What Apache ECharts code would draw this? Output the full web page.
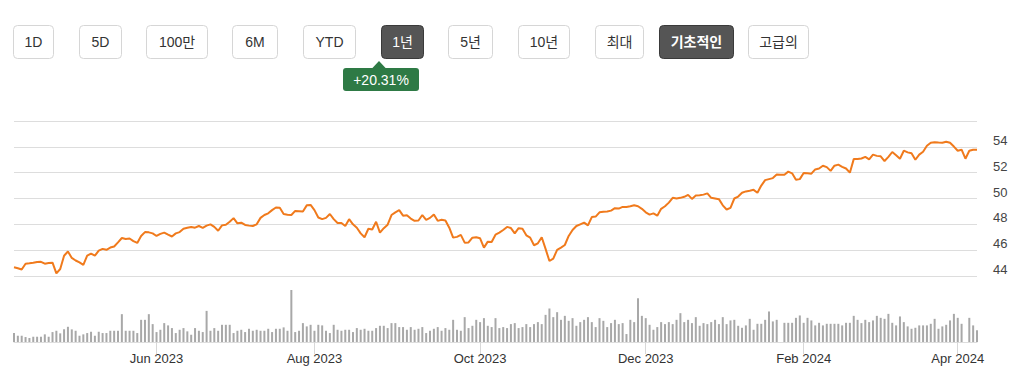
<!DOCTYPE html>
<html>
<head>
<meta charset="utf-8">
<style>
  html, body { margin: 0; padding: 0; background: #fff; }
  #chart { width: 1020px; height: 379px; }
</style>
<script src="https://cdn.jsdelivr.net/npm/echarts@6/dist/echarts.min.js"></script>
</head>
<body>
<div id="chart"></div>
<script>
// ---------- DATA ----------
const buttonLabels = ['1D', '5D', '100만', '6M', 'YTD', '1년', '5년', '10년', '최대', '기초적인', '고급의'];
const activeButtons = ['1년', '기초적인'];
const changeLabel = '+20.31%';

// trading calendar (categories)
const startDate = '2023-04-10';
const endDate = '2024-04-08';
const marketHolidays = ['2023-05-29', '2023-06-19', '2023-07-04', '2023-09-04', '2023-11-23',
  '2023-12-25', '2024-01-01', '2024-01-15', '2024-02-19', '2024-03-29'];
const tickLabels = ['Jun 2023', 'Aug 2023', 'Oct 2023', 'Dec 2023', 'Feb 2024', 'Apr 2024'];
const priceTicks = [44, 46, 48, 50, 52, 54];

// closing price per trading day
const prices = [
  44.68, 44.6, 44.5, 44.95, 44.98, 45.02, 45.08, 45.1, 44.95, 45.0,
  45.03, 44.2, 44.54, 45.57, 45.9, 45.4, 45.2, 45.05, 44.86, 45.57,
  45.73, 45.57, 45.97, 46.1, 46.03, 46.2, 46.28, 46.6, 46.94, 46.86,
  46.9, 46.7, 46.56, 47.1, 47.4, 47.38, 47.3, 47.1, 47.26, 47.36,
  47.2, 47.06, 47.3, 47.4, 47.66, 47.74, 47.8, 47.74, 47.87, 47.72,
  47.9, 48.0, 47.8, 47.5, 47.92, 47.97, 48.2, 48.48, 48.08, 48.13,
  47.95, 47.9, 47.87, 48.0, 48.5, 48.72, 48.85, 49.1, 49.3, 49.28,
  48.8, 48.75, 48.72, 49.04, 49.02, 49.0, 49.47, 49.5, 49.1, 48.53,
  48.4, 48.5, 48.8, 48.4, 48.1, 48.1, 47.87, 48.4, 48.0, 47.74,
  47.3, 47.0, 47.66, 47.6, 48.2, 47.36, 47.7, 47.97, 48.72, 48.93,
  49.1, 48.67, 48.7, 48.45, 48.27, 48.3, 48.72, 48.35, 48.5, 48.77,
  48.27, 48.35, 48.3, 47.74, 46.97, 47.03, 47.18, 46.58, 46.6, 46.97,
  47.0, 46.92, 46.2, 46.66, 46.63, 47.2, 47.36, 47.56, 47.8, 47.71,
  47.3, 47.7, 47.66, 47.15, 46.97, 46.38, 46.53, 47.0, 46.1, 45.16,
  45.35, 46.03, 46.2, 46.4, 47.1, 47.56, 47.87, 48.0, 48.13, 47.92,
  48.56, 48.6, 48.93, 48.98, 49.0, 49.06, 49.25, 49.22, 49.35, 49.35,
  49.4, 49.47, 49.4, 49.2, 48.93, 48.75, 48.85, 48.67, 49.2, 49.4,
  49.68, 50.05, 50.0, 50.05, 50.13, 50.28, 49.97, 50.23, 50.25, 50.3,
  50.4, 50.05, 50.0, 49.95, 49.47, 49.15, 49.28, 50.0, 50.15, 50.45,
  50.55, 50.6, 50.67, 50.45, 51.0, 51.42, 51.5, 51.58, 51.85, 51.83,
  51.84, 52.08, 51.95, 51.45, 51.5, 51.97, 51.95, 51.92, 52.25, 52.32,
  52.54, 52.43, 52.14, 52.54, 52.62, 52.45, 52.32, 52.0, 53.05, 53.05,
  53.1, 53.22, 53.03, 53.4, 53.3, 53.27, 52.9, 53.22, 53.6, 53.35,
  53.08, 53.7, 53.57, 53.5, 53.0, 53.4, 53.62, 54.08, 54.31, 54.36,
  54.33, 54.31, 54.39, 54.31, 54.02, 53.7, 53.78, 53.08, 53.7, 53.78,
  53.78
];

// traded volume per day (x100k shares), null = no bar
const volumes = [
  9.0, 6.3, 6.3, 5.0, 4.0, 5.3, 5.3, 5.3, 7.7, 5.3,
  10.0, 11.3, 8.7, 12.7, 15.3, 12.7, 11.3, 6.3, 7.7, 9.0,
  10.3, 6.3, 10.3, 9.0, 9.0, 11.3, 11.3, 11.3, 28.0, 11.3,
  11.3, 11.3, 9.0, 22.3, 22.3, 28.0, 18.0, 10.0, 12.3, 19.0,
  16.7, 14.0, 9.0, 12.3, 14.0, 10.7, 7.3, 14.0, 11.3, 10.0,
  31.3, 11.3, 14.0, 11.3, 17.3, 17.3, 17.3, 9.0, 11.3, 12.3,
  10.0, 13.3, 11.3, 12.3, 11.3, 11.3, 13.3, 10.0, 13.3, 13.3,
  14.7, 11.3, 52.3, 10.0, 11.3, 19.0, 15.7, 17.3, 11.3, 17.3,
  16.7, 11.3, 9.0, 17.3, 12.3, 11.3, 12.3, 12.3, 10.0, 14.0,
  12.3, 13.3, 11.3, 11.3, 14.0, 16.3, 16.3, 14.0, 19.0, 19.0,
  15.0, 15.0, 12.3, 15.0, 12.3, 13.3, 15.0, 9.0, 11.3, 13.3,
  15.0, 11.3, 14.0, 12.3, 22.3, 12.3, 11.3, 25.0, 14.0, 16.3,
  22.3, 20.0, 24.0, 16.3, 15.0, 24.0, 14.0, 15.0, 14.0, 18.0,
  19.0, 14.0, 15.0, 18.0, 15.0, 18.0, 20.0, 18.0, 27.3, 33.7,
  25.0, 30.0, 22.3, 26.3, 21.3, 24.0, 16.3, 20.0, 22.3, 25.0,
  20.0, 15.0, 24.0, 21.3, 15.0, 19.0, 22.3, 18.0, 19.0, 8.0,
  22.3, 20.0, 44.0, 26.3, 24.0, 17.3, 12.3, 15.0, 20.0, 18.0,
  20.0, 18.0, 22.3, 29.0, 20.0, 22.3, 19.0, 25.0, 16.3, 19.0,
  18.0, 20.0, 22.3, 18.0, 25.0, 18.0, 21.7, 22.3, 16.3, 14.3,
  16.7, 23.3, 12.3, 18.3, 18.3, 22.3, 30.7, 20.7, 22.3, null,
  19.3, 19.3, 19.3, 24.3, 26.7, 19.3, 24.3, 21.7, 16.7, 19.3,
  16.7, 18.3, 18.3, 18.3, 18.3, 16.7, 19.3, 19.3, 26.3, 22.3,
  19.0, 22.3, 20.0, 21.7, 26.3, 24.3, 23.3, 28.3, 19.3, 16.7,
  25.7, 20.0, 15.7, 13.3, 14.3, 16.7, 16.7, 16.7, 18.3, 23.3,
  13.3, 15.7, 17.3, 21.7, 28.3, 24.3, 18.3, null, 24.3, 16.7,
  11.7
];

// ---------- LAYOUT (not data) ----------
const buttonBoxes = [[13, 40], [79, 42], [146, 61], [232, 45], [303, 52], [381, 42],
  [448, 44], [518, 51], [595, 48], [659, 74], [748, 60]];
const FONT = "'Helvetica Neue', Helvetica, Arial, 'Liberation Sans', 'Noto Sans CJK KR', sans-serif";

// ---------- BUILD ----------
function tradingDays() {
  const out = [];
  let d = new Date(startDate + 'T00:00:00Z');
  const end = new Date(endDate + 'T00:00:00Z');
  while (d <= end) {
    const wd = d.getUTCDay();
    const s = d.toISOString().slice(0, 10);
    if (wd !== 0 && wd !== 6 && marketHolidays.indexOf(s) < 0) out.push(s);
    d = new Date(d.getTime() + 86400000);
  }
  return out;
}
const dates = tradingDays();
const MONTHS = ['Jan', 'Feb', 'Mar', 'Apr', 'May', 'Jun', 'Jul', 'Aug', 'Sep', 'Oct', 'Nov', 'Dec'];
function monthLabel(s) {
  return MONTHS[parseInt(s.slice(5, 7), 10) - 1] + ' ' + s.slice(0, 4);
}
function isTick(i) {
  const lbl = monthLabel(dates[i]);
  return tickLabels.indexOf(lbl) >= 0 && i > 0 && monthLabel(dates[i - 1]) !== lbl;
}

const graphics = [];
buttonLabels.forEach(function (lbl, k) {
  const box = buttonBoxes[k];
  const active = activeButtons.indexOf(lbl) >= 0;
  graphics.push({
    type: 'rect',
    shape: { x: box[0] + 0.5, y: 25.5, width: box[1], height: 33, r: 4 },
    style: { fill: active ? '#555555' : '#ffffff', stroke: active ? '#3a3a3a' : '#d6d6d6', lineWidth: 1 },
    silent: true
  });
  graphics.push({
    type: 'text',
    x: box[0] + box[1] / 2 + 0.5,
    y: 42,
    style: {
      text: lbl,
      fill: active ? '#ffffff' : '#333333',
      font: (lbl === '기초적인' ? 'bold ' : '') + '14px ' + FONT,
      textAlign: 'center',
      textVerticalAlign: 'middle'
    },
    silent: true
  });
});
// change badge under active range button
graphics.push({
  type: 'polygon',
  shape: { points: [[372, 68.5], [379, 61], [386, 68.5]] },
  style: { fill: '#2e7a45' },
  silent: true
});
graphics.push({
  type: 'rect',
  shape: { x: 343, y: 68, width: 76, height: 23, r: 3 },
  style: { fill: '#2e7a45' },
  silent: true
});
graphics.push({
  type: 'text',
  x: 381,
  y: 79.5,
  style: {
    text: changeLabel,
    fill: '#ffffff',
    font: '14px ' + FONT,
    textAlign: 'center',
    textVerticalAlign: 'middle'
  },
  silent: true
});

const chart = echarts.init(document.getElementById('chart'), null, { renderer: 'svg' });
chart.setOption({
  animation: false,
  textStyle: { fontFamily: FONT },
  graphic: graphics,
  grid: [
    { left: 14, right: 43, top: 121, height: 155 },
    { left: 14, right: 43, top: 290, height: 52 }
  ],
  xAxis: [
    {
      type: 'category', gridIndex: 0, data: dates, boundaryGap: false, show: false
    },
    {
      type: 'category', gridIndex: 1, data: dates, boundaryGap: false,
      axisLine: { show: true, lineStyle: { color: '#dddddd', width: 1 } },
      axisTick: {
        show: true, length: 12,
        interval: function (i) { return isTick(i); },
        lineStyle: { color: '#d8d8d8' }
      },
      axisLabel: {
        interval: function (i) { return isTick(i); },
        formatter: function (v) { return monthLabel(v); },
        color: '#333333', fontSize: 13, margin: 10, fontFamily: FONT
      },
      splitLine: { show: false }
    }
  ],
  yAxis: [
    {
      type: 'value', gridIndex: 0, position: 'right',
      min: 44, max: 56, interval: 2,
      axisLine: { show: false }, axisTick: { show: false },
      splitLine: { show: true, lineStyle: { color: '#dddddd', width: 1 } },
      axisLabel: {
        color: '#444444', fontSize: 13, margin: 16, verticalAlign: 'bottom', fontFamily: FONT,
        formatter: function (v) { return priceTicks.indexOf(v) >= 0 ? String(v) : ''; }
      }
    },
    {
      type: 'value', gridIndex: 1, min: 0, max: 52.3, show: false,
      splitLine: { show: false }
    }
  ],
  series: [
    {
      type: 'line', xAxisIndex: 0, yAxisIndex: 0, data: prices,
      showSymbol: false, symbol: 'none', smooth: false,
      lineStyle: { color: '#f07a1c', width: 2 },
      itemStyle: { color: '#f07a1c' },
      silent: true
    },
    {
      type: 'bar', xAxisIndex: 1, yAxisIndex: 1, data: volumes,
      barWidth: 2, clip: false,
      itemStyle: { color: '#a8a8a8' },
      silent: true
    }
  ]
});
</script>
</body>
</html>
